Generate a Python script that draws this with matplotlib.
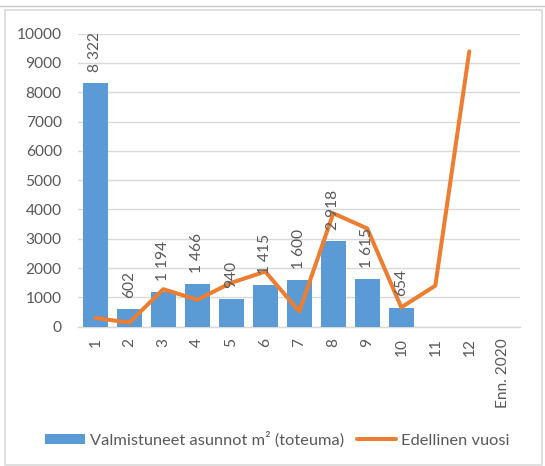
import matplotlib
matplotlib.use("Agg")
import matplotlib.pyplot as plt
from matplotlib.patches import Patch, Rectangle
from matplotlib.lines import Line2D

categories = ["1", "2", "3", "4", "5", "6", "7", "8", "9", "10", "11", "12", "Enn. 2020"]
toteuma = [8322, 602, 1194, 1466, 940, 1415, 1600, 2918, 1615, 654]
edellinen = [300, 140, 1280, 920, 1500, 1880, 520, 3870, 3350, 660, 1400, 9400]
yticks = [0, 1000, 2000, 3000, 4000, 5000, 6000, 7000, 8000, 9000, 10000]

bar_label = "Valmistuneet asunnot m² (toteuma)"
line_label = "Edellinen vuosi"

BAR = "#5B9BD5"
LINE = "#ED7D31"
GRID = "#D9D9D9"
TXT = "#595959"

plt.rcParams['font.family'] = ['Lato', 'DejaVu Sans']
FS = 11.2
LFS = 11.8

W, H = 545, 466
fig = plt.figure(figsize=(W / 100, H / 100), dpi=100)

# outer decorations
fig.add_artist(Line2D([0, 1], [1 - 6 / H, 1 - 6 / H], transform=fig.transFigure,
                      color="#C8C8C8", lw=1.0))
fig.add_artist(Rectangle((5 / W, 1 / H), 537 / W, (H - 11) / H, transform=fig.transFigure,
                         fill=False, edgecolor=GRID, lw=1.2))

ax_l, ax_r = 78.3, 520.3
ax_top, ax_bot = 33.7, 326.7
ax = fig.add_axes([ax_l / W, (H - ax_bot) / H, (ax_r - ax_l) / W, (ax_bot - ax_top) / H])

xs = list(range(len(categories)))
bars = ax.bar(xs[:len(toteuma)], toteuma, width=0.75, color=BAR, zorder=2)
ax.plot(xs[:len(edellinen)], edellinen, color=LINE, lw=2.9,
        solid_capstyle="round", solid_joinstyle="round", zorder=3)

for x, v in zip(xs, toteuma):
    ax.annotate(f"{v:,}".replace(",", " "), (x, v), xytext=(0, 8),
                textcoords="offset points", rotation=90, ha="center", va="bottom",
                fontsize=FS, color=TXT, zorder=4)

ax.set_xlim(-0.5, len(categories) - 0.5)
ax.set_ylim(0, 10000)
ax.set_yticks(yticks)
ax.set_yticklabels([str(t) for t in yticks])
ax.set_xticks(xs)
ax.set_xticklabels(categories, rotation=90)
ax.tick_params(axis="both", length=0, labelsize=FS, labelcolor=TXT)
ax.tick_params(axis="y", pad=12)
ax.tick_params(axis="x", pad=8)
ax.grid(axis="y", color=GRID, lw=1.0, zorder=0)
ax.set_axisbelow(True)
for s in ["top", "right", "left"]:
    ax.spines[s].set_visible(False)
ax.spines["bottom"].set_color(GRID)
ax.spines["bottom"].set_linewidth(1.0)
ax.spines["bottom"].set_zorder(1)

handles = [Patch(facecolor=BAR, edgecolor="none", label=bar_label),
           Line2D([], [], color=LINE, lw=2.9, solid_capstyle="round", label=line_label)]
fig.legend(handles=handles, loc="center", bbox_to_anchor=(277.5 / W, 1 - 439.5 / H),
           ncol=2, frameon=False, fontsize=LFS, labelcolor=TXT, handlelength=2.4,
           handleheight=0.56, handletextpad=0.3, columnspacing=0.8)

fig.savefig("out.png", dpi=100)
